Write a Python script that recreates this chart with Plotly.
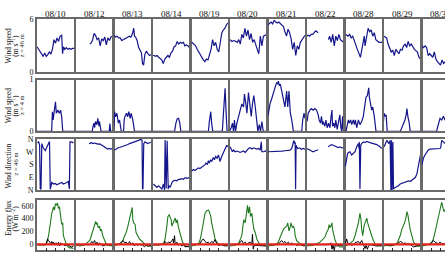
import plotly.graph_objects as go

DATES = ["08/10", "08/12", "08/13", "08/14", "08/19", "08/20", "08/21", "08/22", "08/28", "08/29", "08/30"]

# ---- Wind speed z = 46 m (m/s), hours of day
WS46_T = [
    [0,1,2,3,4,5,6,7,8,9,10,11,12,13,14,15,16,16.6,17.2,18,19,20,21,22,23,24],
    [9.3,10,11,12,13,14,15,16,17,18,19,20,21,22,23,24],
    [0,1,2,3,4,5,6,7,8,9,10,11,12,12.8,13.3,14,15,16,17,17.8,18.5,19.2,20,21,22,23,24],
    [0,1,2,3,4,5,6,7,8,9,10,11,12,13,14,15,16,17,18,19,20,21,22,23,24],
    [0.5,2,3,4,5,6,7,8,9,10,11,12,13,14,15,16,17,18,19,20,21,22,23,24],
    [0.5,1.5,3,5,6,7,8,9,10,11,12,13,14,15,16,17,18,19,20,21,22,24],
    [0,1,2,3,4,5,6,7,8,9,10,11,12,13,14,15,16,17,18,19,20,21,22,24],
    [0,1,2,3,4,5,6,7.6,11,14.2,15,16,17,18,19,20,21,22,23,24],
    [0.5,2,3,4,5,6,8,10,11,12,12.5,13,14,15,16,17,18,19,20,22,24],
    [0.4,2,3,4,5,6,7,8,10,11,12,13,14,15,16,17,18,20,22,23,24],
    [0,1,2,3,4,5,6,7,8,9,10,11,12,13,14,15],
]
WS46_V = [
    [2.9,2.6,2.3,2.0,1.8,2.2,1.8,2.0,2.3,2.1,2.6,3.7,3.3,3.9,3.5,4.1,4.2,2.1,2.9,2.6,2.8,2.6,2.7,2.6,2.7,2.7],
    [3.2,3.3,3.6,4.4,4.2,3.7,3.9,3.0,3.8,3.6,4.0,3.1,3.9,3.6,4.0,4.1],
    [4.2,4.0,4.1,3.9,3.9,3.6,3.7,3.8,3.9,4.0,4.1,4.0,4.4,5.0,4.1,4.0,3.6,2.8,2.4,2.2,1.0,0.8,2.0,2.4,2.1,1.9,2.0],
    [1.9,1.9,1.8,1.9,1.7,1.5,1.4,1.0,1.5,1.7,1.9,1.7,2.2,2.4,2.9,3.0,3.5,3.2,3.4,3.3,3.4,3.0,3.1,3.0,2.8],
    [3.4,3.2,3.0,2.6,2.3,2.0,1.6,1.4,1.2,1.5,1.4,1.9,2.6,3.7,3.0,3.4,2.6,2.3,3.2,4.5,4.8,5.0,5.4,5.6],
    [3.7,3.5,3.6,3.4,3.7,3.2,4.3,3.9,5.0,4.1,4.8,3.7,4.4,3.4,3.7,3.0,2.6,2.1,4.1,3.0,4.1,4.3],
    [5.4,5.6,5.7,5.5,5.9,5.7,5.6,5.7,5.5,5.4,5.2,4.6,4.1,4.9,4.5,3.8,2.6,3.4,1.9,3.0,2.6,3.4,3.7,4.2],
    [4.1,4.2,4.1,4.3,4.3,4.5,4.7,4.5,None,3.7,4.1,3.4,4.3,3.0,4.1,3.6,4.3,3.7,3.5,3.4],
    [4.3,4.1,4.3,3.9,4.1,3.5,2.6,1.7,2.6,3.4,4.1,3.0,4.3,5.0,4.6,4.8,4.1,4.5,3.7,3.4,3.4],
    [4.1,3.9,3.2,2.6,2.3,2.5,1.9,2.6,2.1,2.6,2.5,3.0,3.2,2.8,3.5,3.0,3.2,2.6,2.3,1.7,1.5],
    [3.0,2.8,3.0,2.8,1.9,2.1,1.9,1.7,2.3,1.5,1.2,1.0,0.8,1.4,1.0,1.2],
]

# ---- Wind speed z = 4 m (m/s)
WS4_T = [
    [0,9.5,10,10.5,11,12,12.5,13.5,14.5,15.3,16,16.7,24],
    [0,10.9,11.4,12,12.4,13,13.9,14.5,15.2,15.6,16.2,16.6,21.9,22.3,22.8,24],
    [0,0.4,1,1.9,2.8,3.6,4.7,6.2,6.6,7.0,8.1,8.8,9.6,10.5,11.1,12.2,13.3,24],
    [0,14.3,15.2,16,16.9,17.7,18.4,24],
    [0,11.3,11.9,12.8,13.4,14.1,20.3,21.2,22.1,22.7,23.4,24],
    [0,1.1,1.9,2.6,3.2,3.9,4.8,5.8,6.9,8,9.1,9.7,10.6,11.3,12.3,13.2,14.1,14.9,15.8,16.7,17.5,18.4,19.3,20.1,21,21.9,24],
    [0,0.2,1.3,2.4,3.5,4.5,5.6,6.3,6.7,7.4,8,8.9,10,11,12.1,12.8,13.6,14.5,15.4,16.5,17,21.9,22.5,23.4,24],
    [0.4,1.1,2.2,3.2,4.3,5.4,6.5,7.6,8.2,9.1,9.7,10.4,10.8,11.9,12.6,13.4,14.3,15.2,15.8,16.5,16.9,17.7,18.4,19,19.9,20.6,21.6,22.3,22.9,23.4,24],
    [0,0.6,2.2,2.8,3.7,4.3,5.4,6.1,6.7,7.6,8.7,9.7,10.8,11.9,13,13.6,14.5,15.4,15.8,16.7,17.3,18,18.4,19,20.1,24],
    [0,0.4,1.1,1.7,2.4,10.8,11.5,12.3,13,13.9,14.7,15.2,15.8,16.7,17.3,24],
    [0,9.5,10,10.8,11.7,12.8,13.9,14.9,16],
]
WS4_V = [
    [0,0,0.38,0.22,0.35,0.57,0.35,0.41,0.35,0.41,0.28,0,0],
    [0,0,0.1,0.16,0.07,0.19,0.13,0.25,0.1,0.19,0.07,0,0,0.15,0,0],
    [0.1,0.38,0.28,0.35,0.16,0.22,0,0,0.22,0.28,0.35,0.28,0.38,0.25,0.35,0.22,0,0],
    [0,0,0.16,0.24,0.25,0.16,0,0],
    [0,0,0.19,0.38,0.16,0,0,0.35,0.83,0.41,0,0],
    [0,0.07,0.16,0,0.22,0,0.16,0.29,0.41,0.53,0.47,0.72,0.53,0.35,0.75,0.47,0.29,0.53,0.69,0.47,0.22,0,0.13,0,0.19,0,0],
    [0.3,0.35,0.53,0.63,0.72,0.84,0.94,0.91,0.97,0.88,0.91,0.78,0.66,0.47,0.78,0.47,0.78,0.35,0.22,0,0,0,0.22,0.35,0.25],
    [0.19,0.35,0.41,0.44,0.41,0.44,0.41,0.32,0.22,0.16,0.29,0.13,0.19,0.1,0.22,0.07,0.16,0.07,0.25,0.41,0.1,0.16,0.07,0.22,0.04,0.13,0.32,0.07,0,0.29,0],
    [0,0,0.22,0.16,0.22,0.13,0.22,0.13,0.22,0.07,0.22,0.13,0.19,0.29,0.53,0.66,0.69,0.84,0.66,0.5,0.41,0.47,0.35,0.29,0,0],
    [0.2,0.35,0.29,0.32,0,0,0.04,0.1,0.13,0.22,0.32,0.44,0.29,0.16,0,0],
    [0,0,0.07,0.16,0.25,0.22,0.29,0.22,0.3],
]

# ---- Wind direction z = 46 m (degrees, 0 = N)
WD_T = [
    [0.4,1,1.7,2.1,2.6,3.1,4,5.4,6.4,7.5,8.1,8.6,9,9.6,10.7,11.8,12.8,13.9,15,16,17.1,18.2,19.3,20.3,21,21.4,22.5,23.6],
    [8.8,10.3,11.4,12.4,13.5,14.5,15.6,16.6,17.7,18.7,19.8,20.8,21.9,22.9,24],
    [0.4,1.5,2.6,3.6,4.7,5.8,6.9,7.9,9,10.1,11.1,12.2,13.3,14.3,15.4,16.5,17.6,18.2,18.5,18.8,19.3,20.1,20.8,21.8,24],
    [0.6,1.7,2.8,3.9,5,6.1,7.1,7.8,8.2,8.9,9.5,10.2,10.6,11.5,12.6,13.6,14.7,15.8,16.9,18,19,20.1,21.2,22.3,24],
    [0.4,1.5,2.6,3.7,4.8,5.8,6.9,8,9.1,9.7,10.6,11.3,11.9,12.8,13.4,14.5,15.2,16,16.9,17.8,18.8,19.9,21,22.1,23.2,23.8],
    [0.4,1.1,1.9,2.6,3.7,4.8,5.8,6.9,8,9.1,10.2,11.3,12.3,13.4,14.5,15.6,16.7,17.7,18.8,19.9,20.6,21,22.1,23.2,24],
    [0.2,2.4,4.5,6.7,8.9,11,13.2,14.3,15.4,16.3,16.8,17.2,17.6,17.9,18.2,19.2,20.5,21.6,22.8,24],
    [0,1.1,2.2,3.2,4.3,5.4,6.5,7.6,11,14.1,15.2,16.2,17.3,18.4,19.5,20.6,21.6,22.7,23.8],
    [0.2,0.6,1.1,1.7,2.6,3.2,4.3,5.4,6.5,7.6,8.7,9.1,9.3,9.7,10.2,10.8,11.9,13,14.1,16.2,18.4,20.6,22.7,23.8],
    [0.4,1.1,1.7,2.2,2.8,3.5,4.3,4.8,5.2,5.6,6.1,6.5,7.6,8.7,9.7,10.8,11.9,13,14.1,15.2,16.2,17.3,18.4,19.5,20.6,21.6,22.7,23.4,24],
    [0,0.4,0.9,1.9,3,4.1,5.2,6.3,7.4,8.4,9.5,10.6,11.7,12.1,12.8,13.9,14.9],
]
WD_V = [
    [335,345,320,10,5,330,300,280,305,330,345,5,30,53,42,46,37,42,46,53,42,46,53,60,7,342,342,335],
    [330,337,330,334,330,326,328,318,314,307,295,291,295,291,295],
    [284,295,300,302,306,306,314,318,323,330,334,337,342,346,351,353,360,353,5,10,330,342,337,330,340],
    [42,30,18,30,18,7,42,0,355,10,350,5,30,18,53,65,69,65,76,76,81,76,88,83,88],
    [134,145,138,145,157,152,162,168,180,192,180,208,192,215,203,231,215,238,226,249,203,238,261,284,318,307],
    [307,295,272,284,272,277,272,268,272,277,268,284,295,300,291,300,295,291,295,284,342,272,272,277,272],
    [272,272,272,272,276,279,281,283,295,342,353,330,342,5,318,295,300,290,295,290],
    [295,291,284,277,272,277,282,286,None,307,318,323,318,311,307,302,307,300,302],
    [168,203,249,261,268,272,249,261,272,307,330,295,342,7,318,330,342,337,346,337,330,323,307,295],
    [307,330,342,353,342,330,353,0,353,0,342,7,18,23,30,42,46,53,53,60,65,60,69,76,88,111,180,226,249],
    [180,215,226,249,272,284,291,291,295,291,295,291,295,300,353,342,330],
]

# ---- Energy flux (W m-2): green, black, red series
GRN_T = [
    [0.4,2.1,4.3,5.4,6.4,7.5,8.6,9.6,10.7,11.3,12,12.8,13.3,13.9,14.6,15,15.6,16.1,16.7,17.1,18.2,19.3,20.3,21.4,22.5,23.6],
    [0.4,2.9,6.1,8.2,9.3,10.3,11.4,12.4,13.1,13.5,14.1,14.7,15.6,16.2,16.8,17.7,18.7,19.8,20.8,22.9,24],
    [0.4,2.6,4.7,5.8,6.9,7.9,9,10.1,11.1,11.8,12.2,12.8,13.7,14.3,15.4,16.5,17.6,18.6,19.7,20.8,21.8,24],
    [0.6,3.9,7.1,8.2,9.3,10,10.8,11.5,12.1,12.6,13.6,14.7,15.4,16,16.9,17.5,18.4,19.5,21.2,23.4,24],
    [0.4,2.6,4.8,5.8,6.9,8,9.1,10.2,11.3,11.9,12.8,13.4,14.5,15.6,16.7,17.7,19.9,22.1,23.8],
    [0.4,3.7,5.8,6.9,8,8.7,9.3,10.2,10.8,11.7,12.3,13,13.6,14.5,15.2,15.8,16.7,17.7,18.8,19.9,22.1,24],
    [0.2,3.5,5.6,6.7,7.8,8.9,10,11,12.1,12.8,13.6,14.3,14.9,15.8,16.5,17.2,17.6,18.6,19.7,20.7,21.8,22.9,24],
    [0,2.2,4.3,6.5,8.7,9.7,10.8,11.9,13,14.1,14.7,15.2,15.8,16.5,16.9,17.3,18,18.6,19.5,20.6,21.6,23.8],
    [0.2,1.1,2.2,3.2,4.3,5.4,6.5,7.6,8.7,9.7,10.4,10.8,11.5,12.3,13,14.1,14.7,15.6,16.2,17.3,18.4,19.5,20.6,22.7,23.8],
    [0.4,2.2,4.3,6.5,8.7,9.7,10.8,11.9,13,13.6,14.3,15.2,15.8,16.5,17.3,18.4,19.5,20.6,21.6,23.8],
    [0,1.9,4.1,5.2,6.3,7.4,8.4,9.5,10.6,11.7,12.8,13.4,14.3,14.9,16],
]
GRN_V = [
    [-20,-25,-20,-15,25,127,330,483,585,534,636,611,646,560,585,433,382,305,331,127,51,-25,-51,-66,-66,-76],
    [-25,-36,-15,25,51,127,229,305,356,305,331,254,280,204,229,127,51,0,-25,-36,-36],
    [-25,-15,15,51,127,178,280,382,483,575,382,331,305,178,127,76,51,25,0,-25,-36,-40],
    [-25,-25,0,76,280,433,458,407,382,280,356,407,331,382,254,204,127,25,-36,-51,-51],
    [-36,-25,0,51,178,331,483,524,534,509,433,331,178,76,25,0,-15,-25,-36],
    [-36,-25,0,51,127,280,382,331,483,611,483,585,433,483,331,229,178,76,25,-15,-25,-36],
    [-35,-25,0,25,100,178,229,254,280,331,204,254,331,254,280,229,127,50,15,0,-15,-25,-25],
    [-36,-36,-25,0,25,51,76,102,178,229,305,254,280,331,229,178,102,51,0,-36,-51,-51],
    [-36,-25,-15,0,25,51,127,229,331,483,382,229,127,280,331,407,331,254,178,127,51,0,-25,-40,-40],
    [-36,-25,-36,-25,0,51,127,229,280,331,382,509,458,331,229,127,25,-15,-36,-40],
    [-36,-25,-15,0,25,76,178,305,433,534,662,585,509,534,500],
]
BLK_T = [
    [0.4,5.4,6,6.9,7.5,8.1,9,9.6,10.3,10.7,11.8,12.4,13.3,13.9,14.6,15.4,16.3,17.1,18.2,19.3,20.3,21.4,22.5,23.6],
    [0.4,9.3,9.7,10.5,11.4,12.4,13.1,13.9,14.7,15.6,16.6,17.7,19.8,22.9,24],
    [0.4,3.6,5.8,6.9,7.9,9,10.1,11.1,12.2,13.3,14.3,15.4,16.5,17.6,18.6,19.7,20.8,21.8,24],
    [0.6,7.1,8.2,9.3,10.4,11.5,12.6,13.2,13.6,14.3,14.7,15.8,16.9,18,19,20.1,21.2,23.4,24],
    [0.4,5.8,6.9,8,9.1,10.2,11.3,12.3,13.4,14.5,15.6,16.7,17.7,19.9,22.1,23.8],
    [0.4,5.8,6.9,8,9.1,10.2,11.3,12.3,13.4,14.5,14.9,15.4,16,16.7,18.8,21,24],
    [0.2,6.7,7.8,8.9,10,11,12.1,13.2,14.3,15.4,16.5,17.5,18.6,20.7,23.4,24],
    [0,13,14.1,15.2,15.8,16.2,16.6,17.1,17.5,18,18.6,19.5,21.6,23.8],
    [0.2,1.1,1.7,3.2,4.3,5.4,6.5,7.6,8.7,9.7,10.8,11.5,12.3,13,13.6,14.5,15.2,16.2,18.4,20.6,23.8],
    [0.4,4.3,8.7,9.7,10.8,11.9,13,14.1,15.2,16.2,17.3,18.4,19.5,21.6,23.8],
    [0,5.2,6.3,7.4,8.4,9.5,10.6,11.7,12.8,14.9],
]
BLK_V = [
    [-15,-15,0,76,51,25,0,36,-15,25,-15,15,-25,25,-36,15,-15,-5,-36,-15,-25,-36,-51,-36],
    [-15,-15,0,36,15,51,-15,25,-25,15,-15,-36,-15,-25,-20],
    [-15,-5,51,15,25,-5,36,-15,15,-36,0,-25,-5,-25,-15,-51,-25,-36,-30],
    [-15,-5,36,0,25,15,51,76,15,127,-15,25,-25,0,-36,-15,-51,-36,-36],
    [-15,-5,51,76,36,15,25,0,36,15,66,0,-25,-15,-36,-25],
    [-15,-5,25,51,0,25,-15,15,25,-5,150,-85,-25,-25,-36,-25,-36],
    [-15,-15,25,51,15,36,0,25,-15,15,-15,-5,-25,-15,-36,-25],
    [-15,-15,0,-15,15,-36,-85,-15,-40,-100,-25,-36,-25,-36],
    [-5,76,15,-5,-25,-15,15,25,36,0,51,15,-25,-76,-25,-87,-36,-15,-25,-36,-25],
    [-15,-25,-5,15,36,25,0,15,-15,5,-15,-36,-51,-36,-25],
    [-15,-15,15,51,25,15,0,25,0,-5],
]
RED_T = [0, 6, 12, 18, 24]
RED_V = [-10, -10, -8, -10, -10]

# ---- axes / ticks
YRANGES = [[0, 6], [0, 1], [0, 362], [-105, 700]]
YTICKVALS = [[0, 6], [0, 1], [0, 90, 180, 270, 360], [0, 200, 400, 600]]
YTICKTEXT = [["0", "6"], ["0", "1"], ["N", "E", "S", "W", "N"], ["0", "200", "400", "600"]]

W, H = 445, 257
COL_LEFT0, COL_PITCH, PANEL_W = 37.0, 38.5, 37.0
ROW_TOP = [16.0, 78.3, 140.0, 202.7]
ROW_BOT = [70.7, 132.0, 192.7, 255.3]
NCOL = len(DATES)

FONT = "Liberation Serif, Times New Roman, serif"
BLUE = "#16168c"
GREEN = "#1f7a1f"
RED = "#e3241e"
FRAME = "#6a6a6a"

fig = go.Figure()
layout = {}


def add_line(idx, x, y, color, width):
    fig.add_trace(go.Scatter(
        x=x, y=y, mode="lines", line=dict(color=color, width=width),
        xaxis="x" + ("" if idx == 1 else str(idx)),
        yaxis="y" + ("" if idx == 1 else str(idx)),
        showlegend=False, hoverinfo="skip", connectgaps=False))


for r in range(4):
    for c in range(NCOL):
        idx = r * NCOL + c + 1
        left = COL_LEFT0 + COL_PITCH * c
        right = left + PANEL_W
        xmax = 24.0
        if right > W:
            xmax = 24.0 * (W - left) / PANEL_W
            right = W
        xd = [left / W, right / W]
        yd = [1 - ROW_BOT[r] / H, 1 - ROW_TOP[r] / H]
        sfx = "" if idx == 1 else str(idx)
        xa = dict(domain=xd, range=[0, xmax], anchor="y" + sfx,
                  showgrid=False, zeroline=False, showline=True, mirror=True,
                  linecolor=FRAME, linewidth=1.6, showticklabels=False,
                  fixedrange=True)
        if r == 3:
            xa.update(ticks="inside", tickvals=[6, 12, 18], ticklen=3,
                      tickcolor="#222", tickwidth=1)
        else:
            xa.update(ticks="")
        ya = dict(domain=yd, range=YRANGES[r], anchor="x" + sfx,
                  showgrid=False, zeroline=False, showline=True,
                  mirror=(right < W), linecolor=FRAME, linewidth=1.6,
                  fixedrange=True)
        if c == 0:
            ya.update(tickvals=YTICKVALS[r], ticktext=YTICKTEXT[r],
                      showticklabels=True, ticks="",
                      tickfont=dict(family=FONT, size=8, color="#111"))
        else:
            ya.update(showticklabels=False, ticks="")
        layout["xaxis" + sfx] = xa
        layout["yaxis" + sfx] = ya

        if r == 0:
            add_line(idx, WS46_T[c], WS46_V[c], BLUE, 1.2)
        elif r == 1:
            add_line(idx, WS4_T[c], WS4_V[c], BLUE, 1.2)
        elif r == 2:
            add_line(idx, WD_T[c], WD_V[c], BLUE, 1.2)
        else:
            add_line(idx, GRN_T[c], GRN_V[c], GREEN, 1.1)
            add_line(idx, BLK_T[c], BLK_V[c], "#000000", 1.0)
            add_line(idx, RED_T, RED_V, RED, 2.2)

annotations = []
for c, d in enumerate(DATES):
    cx = (COL_LEFT0 + COL_PITCH * c + PANEL_W / 2) / W
    annotations.append(dict(text=d, x=cx, y=1 - 10 / H, xref="paper", yref="paper",
                            xanchor="center", yanchor="middle", showarrow=False,
                            font=dict(family=FONT, size=9, color="#111")))

# y-axis titles: (text, x px, y px, size)
YLABELS = [
    ("Wind speed", 8.5, 43.5, 7.5), ("(m s<sup>−1</sup>)", 15.3, 43.0, 7.5), ("z = 46 m", 21.8, 43.0, 6.5),
    ("Wind speed", 8.5, 105.5, 7.5), ("(m s<sup>−1</sup>)", 15.3, 105.0, 7.5), ("z = 4 m", 21.8, 105.0, 6.5),
    ("Wind direction", 8.5, 168.0, 7.5), ("z = 46 m", 15.3, 166.0, 6.5),
    ("Energy flux", 8.5, 222.0, 7.5), ("(W m<sup>−2</sup>)", 15.3, 222.0, 7.5),
]
for txt, xp, yp, sz in YLABELS:
    annotations.append(dict(text=txt, x=xp / W, y=1 - yp / H, xref="paper", yref="paper",
                            xanchor="center", yanchor="middle", textangle=-90,
                            showarrow=False, font=dict(family=FONT, size=sz, color="#111")))

fig.update_layout(**layout)
fig.update_layout(width=W, height=H, margin=dict(l=0, r=0, t=0, b=0, pad=0),
                  paper_bgcolor="white", plot_bgcolor="white",
                  font=dict(family=FONT, size=8, color="#111"),
                  annotations=annotations, showlegend=False)

fig.write_html("out.html", config={"displayModeBar": False})
